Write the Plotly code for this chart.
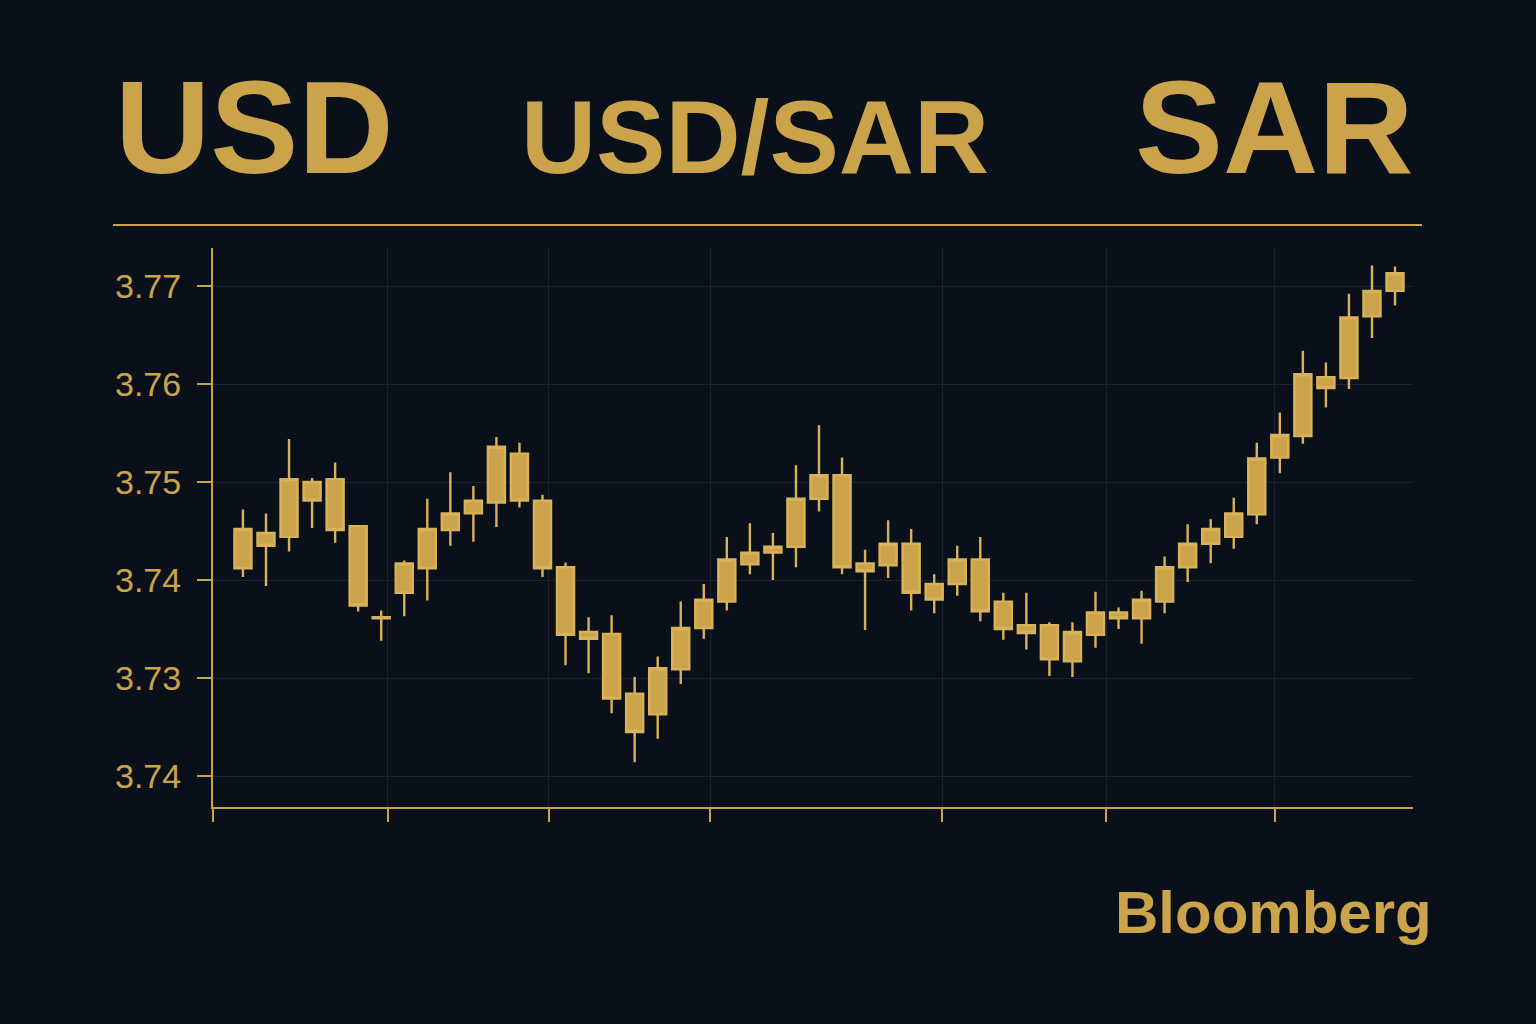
import plotly.graph_objects as go

# ---- data ----
sessions = list(range(51))
open_ = [3.7412, 3.7448, 3.7444, 3.7500, 3.7503, 3.7455, 3.7362, 3.7387, 3.7412, 3.7451,
         3.7468, 3.7479, 3.7529, 3.7481, 3.7413, 3.7347, 3.7345, 3.7284, 3.7263, 3.7309,
         3.7351, 3.7378, 3.7416, 3.7428, 3.7434, 3.7483, 3.7507, 3.7417, 3.7415, 3.7437,
         3.7396, 3.7396, 3.7421, 3.7378, 3.7354, 3.7354, 3.7317, 3.7344, 3.7367, 3.7361,
         3.7378, 3.7413, 3.7437, 3.7444, 3.7467, 3.7525, 3.7547, 3.7607, 3.7606, 3.7669,
         3.7695]
high = [3.7472, 3.7468, 3.7544, 3.7504, 3.7520, 3.7456, 3.7369, 3.7420, 3.7483, 3.7510,
        3.7496, 3.7546, 3.7540, 3.7487, 3.7418, 3.7362, 3.7364, 3.7301, 3.7322, 3.7378,
        3.7396, 3.7444, 3.7458, 3.7448, 3.7517, 3.7558, 3.7525, 3.7431, 3.7461, 3.7452,
        3.7406, 3.7435, 3.7444, 3.7387, 3.7387, 3.7357, 3.7357, 3.7388, 3.7372, 3.7389,
        3.7424, 3.7457, 3.7462, 3.7484, 3.7540, 3.7571, 3.7634, 3.7622, 3.7692, 3.7721,
        3.7720]
low = [3.7403, 3.7394, 3.7429, 3.7453, 3.7438, 3.7368, 3.7338, 3.7363, 3.7379, 3.7435,
       3.7439, 3.7454, 3.7474, 3.7403, 3.7313, 3.7305, 3.7264, 3.7214, 3.7238, 3.7294,
       3.7340, 3.7369, 3.7406, 3.7400, 3.7413, 3.7470, 3.7406, 3.7349, 3.7402, 3.7369,
       3.7366, 3.7384, 3.7358, 3.7339, 3.7329, 3.7302, 3.7301, 3.7331, 3.7350, 3.7335,
       3.7366, 3.7398, 3.7417, 3.7432, 3.7457, 3.7509, 3.7539, 3.7576, 3.7595, 3.7647,
       3.7680]
close = [3.7452, 3.7435, 3.7503, 3.7481, 3.7451, 3.7374, 3.7361, 3.7417, 3.7452, 3.7468,
         3.7481, 3.7536, 3.7481, 3.7412, 3.7344, 3.7340, 3.7279, 3.7245, 3.7310, 3.7351,
         3.7380, 3.7421, 3.7428, 3.7434, 3.7483, 3.7507, 3.7413, 3.7409, 3.7437, 3.7387,
         3.7380, 3.7421, 3.7368, 3.7350, 3.7346, 3.7319, 3.7347, 3.7367, 3.7361, 3.7380,
         3.7413, 3.7437, 3.7452, 3.7468, 3.7524, 3.7548, 3.7610, 3.7596, 3.7668, 3.7695,
         3.7713]

y_tick_vals = [3.77, 3.76, 3.75, 3.74, 3.73, 3.72]
y_tick_text = ["3.77", "3.76", "3.75", "3.74", "3.73", "3.74"]

title_left = "USD"
title_mid = "USD/SAR"
title_right = "SAR"
brand = "Bloomberg"

# ---- style ----
BG = "#0a1019"
GOLD = "#cba34b"
GOLD_EDGE = "#d8b25a"
GRID = "#1a2130"
FONT = "Liberation Sans, Arial, Helvetica, sans-serif"

W, H = 1536, 1024
L, R, T, B = 213, 1413, 248, 807


def px(xp):
    return (xp - L) / (R - L)


def py(yp):
    return (B - yp) / (B - T)


fig = go.Figure(
    go.Candlestick(
        x=sessions, open=open_, high=high, low=low, close=close,
        increasing=dict(fillcolor=GOLD, line=dict(color=GOLD_EDGE, width=2.4)),
        decreasing=dict(fillcolor=GOLD, line=dict(color=GOLD_EDGE, width=2.4)),
        whiskerwidth=0,
        showlegend=False,
        hoverinfo="skip",
    )
)

x_lo, x_hi = -1.30, 50.78
x_tick_pos = [-1.29, 6.29, 13.28, 20.27, 30.34, 37.46, 44.79]

fig.update_layout(
    width=W, height=H,
    paper_bgcolor=BG, plot_bgcolor=BG,
    margin=dict(l=L, r=W - R, t=T, b=H - B, pad=0),
    boxgap=0.22, boxgroupgap=0.05,
    font=dict(family=FONT, color=GOLD),
    hovermode=False,
    xaxis=dict(
        range=[x_lo, x_hi], rangeslider=dict(visible=False),
        tickvals=x_tick_pos, ticktext=[""] * len(x_tick_pos),
        ticks="outside", ticklen=13, tickwidth=2, tickcolor=GOLD,
        showline=True, linecolor=GOLD, linewidth=2,
        showgrid=True, gridcolor=GRID, gridwidth=1, zeroline=False,
        fixedrange=True,
    ),
    yaxis=dict(
        range=[3.71684, 3.77388],
        tickvals=y_tick_vals, ticktext=y_tick_text,
        ticks="outside", ticklen=14, tickwidth=2, tickcolor=GOLD,
        ticklabelstandoff=9,
        tickfont=dict(size=34, color=GOLD, family=FONT),
        showline=True, linecolor=GOLD, linewidth=2,
        showgrid=True, gridcolor=GRID, gridwidth=1, zeroline=False,
        fixedrange=True,
    ),
)

fig.add_annotation(text=title_left, xref="paper", yref="paper",
                   x=px(113), y=py(128), xanchor="left", yanchor="middle",
                   showarrow=False,
                   font=dict(size=132, color=GOLD, family=FONT, weight="bold"))
fig.add_annotation(text=title_mid, xref="paper", yref="paper",
                   x=px(755), y=py(137), xanchor="center", yanchor="middle",
                   showarrow=False,
                   font=dict(size=104, color=GOLD, family=FONT, weight="bold"))
fig.add_annotation(text=title_right, xref="paper", yref="paper",
                   x=px(1416), y=py(128), xanchor="right", yanchor="middle",
                   showarrow=False,
                   font=dict(size=132, color=GOLD, family=FONT, weight="bold"))
fig.add_annotation(text=brand, xref="paper", yref="paper",
                   x=px(1434), y=py(912), xanchor="right", yanchor="middle",
                   showarrow=False,
                   font=dict(size=60, color=GOLD, family=FONT, weight="bold"))

fig.add_shape(type="line", xref="paper", yref="paper",
              x0=px(113), x1=px(1422), y0=py(225), y1=py(225),
              line=dict(color=GOLD, width=2))

fig.write_html(
    "out.html",
    config={"displayModeBar": False, "staticPlot": True},
    post_script="document.body.style.margin='0';document.body.style.background='" + BG + "';",
)
